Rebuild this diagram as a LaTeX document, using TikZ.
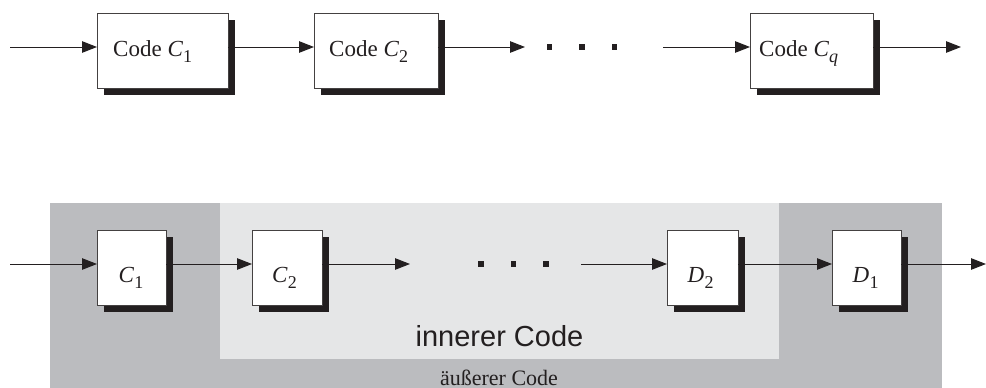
\documentclass[tikz,border=0pt]{standalone}
\usepackage{fontspec}
\setmainfont{Liberation Serif}
\newfontfamily\sansfont{Liberation Sans}
\usetikzlibrary{arrows.meta,shadows}
\definecolor{outerg}{HTML}{BBBCBF}
\definecolor{innerg}{HTML}{E5E6E7}
\definecolor{ink}{HTML}{231F20}
% symbol with lowered index, e.g. C_1
\newcommand\symb[2]{{\itshape #1}\kern0.3pt\raisebox{-0.29em}{\fontsize{18}{18}\selectfont #2}}
\begin{document}
\begin{tikzpicture}[x=1pt,y=-1pt,
  blk/.style={draw=ink!85, line width=1pt, fill=white, minimum width=#1,
    minimum height=75pt, inner sep=0pt, outer sep=0pt,
    drop shadow={shadow xshift=7pt, shadow yshift=-7pt, opacity=1, fill=ink}},
  arr/.style={draw=ink, line width=1pt, -{Triangle[length=15pt,width=11.5pt]}},
  dotsq/.style={fill=ink, minimum size=5.5pt, inner sep=0pt},
  lab/.style={font=\fontsize{23}{23}\selectfont, inner sep=0pt, anchor=base west, text=ink}]
\useasboundingbox (0,0) rectangle (986,388);

% ---- serial chain of codes ----
\node[blk=131] (t1) at (162.5,50.5) {};
\node[blk=124] (t2) at (376,50.5) {};
\node[blk=123] (tq) at (811.5,50.5) {};
\node[lab] (l1) at (113,56) {Code \symb{C}{1}};
\node[lab] (l2) at (329,56) {Code \symb{C}{2}};
\node[lab] (lq) at (759,56) {Code \symb{C}{\itshape q}};

\coordinate (tin) at (10,47);
\coordinate (tend2) at (525,47);
\coordinate (tstartq) at (663,47);
\coordinate (tout) at (961,47);
\draw[arr] (tin) -- (t1.west |- tin);
\draw[arr] (t1.east |- tin) -- (t2.west |- tin);
\draw[arr] (t2.east |- tin) -- (tend2);
\draw[arr] (tstartq) -- (tq.west |- tin);
\draw[arr] (tq.east |- tin) -- (tout);
\node[dotsq] (td1) at (549.3,47) {};
\node[dotsq] (td2) at (582,47) {};
\node[dotsq] (td3) at (614.5,47) {};

% ---- concatenated code: outer and inner regions ----
\fill[outerg] (50,203) rectangle (942,388);
\fill[innerg] (220,203) rectangle (779,359);
\node[font=\sansfont\fontsize{29}{29}\selectfont, anchor=base, inner sep=0pt, text=ink] (inner) at (499.5,346.5) {innerer Code};
\node[font=\fontsize{22}{22}\selectfont, anchor=base, inner sep=0pt, text=ink] (outer) at (499,385) {äußerer Code};

\node[blk=69] (c1) at (131.5,267.5) {};
\node[blk=70] (c2) at (287,267.5) {};
\node[blk=71] (d2) at (702.5,267.5) {};
\node[blk=69] (d1) at (866.5,267.5) {};
\node[lab] (lc1) at ([xshift=21.5pt]c1.west |- 0,282) {\symb{C}{1}};
\node[lab] (lc2) at ([xshift=20pt]c2.west |- 0,282) {\symb{C}{2}};
\node[lab] (ld2) at ([xshift=20.5pt]d2.west |- 0,282) {\symb{D}{2}};
\node[lab] (ld1) at ([xshift=20.5pt]d1.west |- 0,282) {\symb{D}{1}};

\coordinate (bin) at (10,264);
\coordinate (bend2) at (410,264);
\coordinate (bstartd) at (581,264);
\coordinate (bout) at (986,264);
\draw[arr] (bin) -- (c1.west |- bin);
\draw[arr] (c1.east |- bin) -- (c2.west |- bin);
\draw[arr] (c2.east |- bin) -- (bend2);
\draw[arr] (bstartd) -- (d2.west |- bin);
\draw[arr] (d2.east |- bin) -- (d1.west |- bin);
\draw[arr] (d1.east |- bin) -- (bout);
\node[dotsq] (bd1) at (481,264) {};
\node[dotsq] (bd2) at (513.5,264) {};
\node[dotsq] (bd3) at (546,264) {};
\end{tikzpicture}
\end{document}
